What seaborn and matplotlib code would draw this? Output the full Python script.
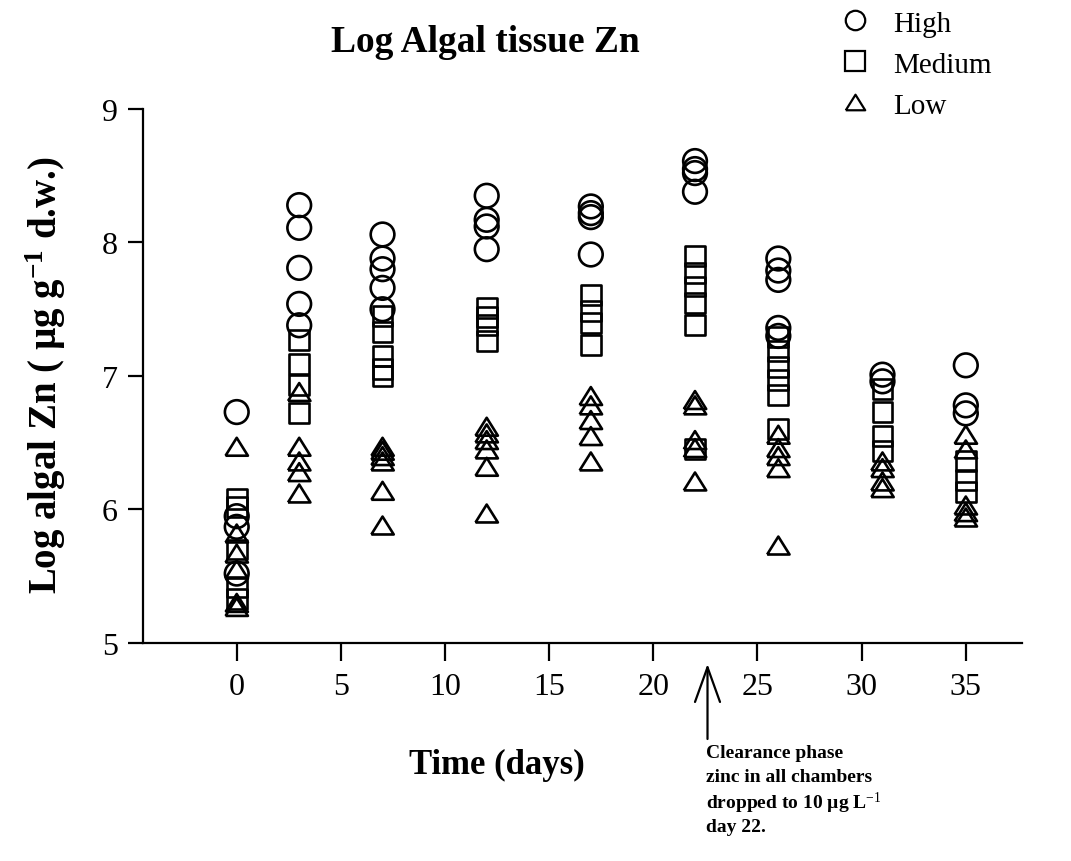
import numpy as np
import pandas as pd
import matplotlib
matplotlib.use("Agg")
import matplotlib.pyplot as plt
from matplotlib.lines import Line2D
import seaborn as sns

# Sampling days and log tissue Zn per treatment (one list of replicates per day)
days = [0, 3, 7, 12, 17, 22, 26, 31, 35]
high = [
    [6.73, 5.95, 5.87, 5.52],
    [8.28, 8.11, 7.81, 7.54, 7.38],
    [8.06, 7.88, 7.80, 7.66, 7.50],
    [8.35, 8.17, 8.12, 7.95],
    [8.27, 8.22, 8.19, 7.91],
    [8.61, 8.55, 8.52, 8.38],
    [7.88, 7.79, 7.72, 7.36, 7.30],
    [7.01, 6.96],
    [7.08, 6.78, 6.72],
]
medium = [
    [6.08, 6.02, 5.70, 5.42, 5.33],
    [7.27, 7.09, 6.93, 6.72],
    [7.45, 7.33, 7.15, 7.05, 7.00],
    [7.51, 7.44, 7.38, 7.26],
    [7.61, 7.49, 7.40, 7.23],
    [7.90, 7.77, 7.67, 7.55, 7.38, 6.45],
    [7.29, 7.19, 7.07, 6.97, 6.86, 6.60],
    [6.90, 6.73, 6.55, 6.44],
    [6.36, 6.22, 6.13],
]
low = [
    [6.47, 5.82, 5.67, 5.55, 5.30, 5.27],
    [6.88, 6.47, 6.36, 6.28, 6.12],
    [6.47, 6.44, 6.40, 6.36, 6.14, 5.88],
    [6.62, 6.57, 6.52, 6.45, 6.32, 5.97],
    [6.85, 6.78, 6.67, 6.55, 6.36],
    [6.82, 6.78, 6.52, 6.46, 6.21],
    [6.56, 6.46, 6.40, 6.31, 5.73],
    [6.36, 6.31, 6.21, 6.16],
    [6.56, 6.45, 6.03, 5.98, 5.94],
]
levels = ["High", "Medium", "Low"]
x_ticks = [0, 5, 10, 15, 20, 25, 30, 35]
y_ticks = [5, 6, 7, 8, 9]
clearance_day = 22.6
note_lines = ["Clearance phase", "zinc in all chambers",
              "dropped to 10 µg L$^{-1}$", "day 22."]

rows = []
for name, series in zip(levels, [high, medium, low]):
    for d, vals in zip(days, series):
        for v in vals:
            rows.append({"day": d, "zn": v, "level": name})
df = pd.DataFrame(rows)

sns.set_style("ticks")
plt.rcParams["font.family"] = ["Liberation Serif", "DejaVu Serif"]
plt.rcParams["mathtext.fontset"] = "custom"
plt.rcParams["mathtext.rm"] = "Liberation Serif"
plt.rcParams["mathtext.bf"] = "Liberation Serif:bold"
plt.rcParams["mathtext.it"] = "Liberation Serif:italic"
for key in ["text.color", "axes.labelcolor", "xtick.color", "ytick.color",
            "axes.edgecolor"]:
    plt.rcParams[key] = "black"

fig = plt.figure(figsize=(10.71, 8.62), dpi=100)
ax = fig.add_axes([0.1335, 0.2529, 0.8208, 0.6195])

tri = [(-1.0, -0.8), (1.0, -0.8), (0.0, 0.8), (-1.0, -0.8)]
marker_map = {"High": "o", "Medium": "s", "Low": tri}
size_map = {"High": 290, "Medium": 205, "Low": 260}

for name in levels:
    sub = df[df["level"] == name]
    sns.scatterplot(data=sub, x="day", y="zn", marker=marker_map[name],
                    s=size_map[name], facecolor="none", edgecolor="black",
                    linewidth=1.9, ax=ax, legend=False, clip_on=False, zorder=3)

ax.set_xlim(-4.5, 37.7)
ax.set_ylim(5, 9)
ax.set_xticks(x_ticks)
ax.set_yticks(y_ticks)
ax.set_xlabel("")
ax.set_ylabel("")
sns.despine(ax=ax)
for s in ["left", "bottom"]:
    ax.spines[s].set_linewidth(1.6)
ax.tick_params(axis="x", direction="out", length=13, width=1.6, pad=8, labelsize=23)
ax.tick_params(axis="y", direction="out", length=11, width=1.6, pad=7, labelsize=23)

fig.text(0.453, 0.951, "Log Algal tissue Zn", ha="center", va="center",
         fontsize=27, fontweight="bold")
fig.text(0.464, 0.112, "Time (days)", ha="center", va="center",
         fontsize=25, fontweight="bold")
fig.text(0.043, 0.565, r"Log algal Zn ( µg g$^{\mathbf{-1}}$ d.w.)", ha="center",
         va="center", rotation=90, fontsize=28, fontweight="bold")

handles = [Line2D([], [], linestyle="none", marker=marker_map[n], markersize=14,
                  markerfacecolor="none", markeredgecolor="black",
                  markeredgewidth=1.6) for n in levels]
fig.legend(handles, levels, loc="upper left", bbox_to_anchor=(0.7797, 0.987),
           frameon=False, fontsize=21, handlelength=1.4, handletextpad=0.6,
           labelspacing=0.5, borderpad=0, borderaxespad=0)

ax.annotate("", xy=(clearance_day, 4.843), xytext=(clearance_day, 4.281),
            xycoords="data", textcoords="data", annotation_clip=False,
            arrowprops=dict(arrowstyle="->,head_length=1.25,head_width=0.45",
                            lw=1.6, color="black", mutation_scale=20,
                            shrinkA=0, shrinkB=0))
for i, line in enumerate(note_lines):
    fig.text(0.659, 1 - (753 + 25 * i) / 862, line, ha="left", va="center",
             fontsize=14, fontweight="bold")

fig.savefig("out.png", dpi=100)
